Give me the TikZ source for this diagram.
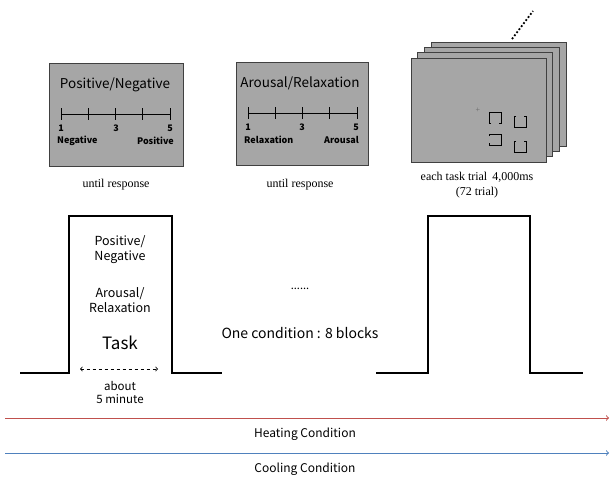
\documentclass[tikz,border=0pt]{standalone}
\usepackage{fontspec}
\setmainfont{Liberation Serif}
\setsansfont{Noto Sans CJK KR}
\usetikzlibrary{arrows}
\usetikzlibrary{backgrounds,positioning,calc}
\usepackage{xcolor}
\definecolor{scrgray}{RGB}{166,166,166}
\definecolor{heatred}{RGB}{192,80,77}
\definecolor{coolblue}{RGB}{79,129,189}

\begin{document}
\begin{tikzpicture}[x=1pt,y=-1pt]
      \tikzstyle{every node}=[inner sep=0pt, font=\sffamily]
      \tikzstyle{scrbox}=[draw=black!75, fill=scrgray, line width=0.8pt]
      \tikzstyle{scalelbl}=[font=\sffamily\bfseries\fontsize{9}{10}\selectfont]
      \tikzstyle{serifnote}=[font=\rmfamily\fontsize{12}{13}\selectfont]
      \tikzstyle{pulse}=[line width=1.2pt]
      \useasboundingbox (0,0) rectangle (611,479);

      % rating screens
      \node[scrbox, minimum width=134, minimum height=103] (s1) at (116,114.5) {};
      \node[scrbox, minimum width=132, minimum height=103] (s2) at (302,113.5) {};
      \node[font=\sffamily\fontsize{13.5}{15}\selectfont] (t1) at (115,85) {Positive/Negative};
      \node[font=\sffamily\fontsize{13.5}{15}\selectfont] (t2) at (300,83) {Arousal/Relaxation};

      \coordinate (a1) at (61,114);  \coordinate (b1) at (170,114);
      \coordinate (a2) at (248,113); \coordinate (b2) at (357,113);
      \draw[line width=0.9pt] (a1) -- (b1);
      \draw[line width=0.9pt] (a2) -- (b2);
      \foreach \k in {0,...,4} {
        \draw[line width=0.9pt] ($(a1)+(27.25*\k,-6)$) -- ($(a1)+(27.25*\k,6)$);
        \draw[line width=0.9pt] ($(a2)+(27.25*\k,-6)$) -- ($(a2)+(27.25*\k,6)$);
      }
      \node[scalelbl] (p1) at (61,128)  {1};
      \node[scalelbl] (p3) at (116,128) {3};
      \node[scalelbl] (p5) at (170,128) {5};
      \node[scalelbl, anchor=west] (neg) at (57,141) {Negative};
      \node[scalelbl, anchor=east] (pos) at (174,141) {Positive};
      \node[scalelbl] (q1) at (248,127) {1};
      \node[scalelbl] (q3) at (302,127) {3};
      \node[scalelbl] (q5) at (356,127) {5};
      \node[scalelbl, anchor=west] (rel) at (244,140) {Relaxation};
      \node[scalelbl, anchor=east] (aro) at (359,140) {Arousal};

      \node[serifnote] (u1) at (116,185) {until response};
      \node[serifnote] (u2) at (300,185) {until response};

      % stacked task screens
      \foreach \i in {3,2,1,0}
        \node[scrbox, minimum width=135, minimum height=104] (f\i) at (478.5+6.7*\i,110-5.3*\i) {};
      \draw[line width=1.8pt, dotted] (512,39) -- (533,11);
      \node[text=black!60, font=\fontsize{8}{8}\selectfont] (fix) at (478,110) {+};
      \draw[line width=0.9pt] (491,123) -- (489,123) -- (489,112) -- (501,112) -- (501,123) -- (499,123);
      \draw[line width=0.9pt] (516,116) -- (514,116) -- (514,127) -- (526,127) -- (526,116) -- (524,116);
      \draw[line width=0.9pt] (489,136) -- (489,134) -- (501,134) -- (501,145) -- (489,145) -- (489,143);
      \draw[line width=0.9pt] (516,141) -- (514,141) -- (514,152) -- (526,152) -- (526,141) -- (524,141);
      \node[serifnote] (e1) at (477,177) {each task trial\, 4,000ms};
      \node[serifnote] (e2) at (477,193) {(72 trial)};

      % block pulses
      \draw[pulse] (20,373) -- (69,373) -- (69,216) -- (172,216) -- (172,373) -- (222,373);
      \draw[pulse] (376,373) -- (428,373) -- (428,216) -- (530,216) -- (530,373) -- (583,373);

      \node[font=\sffamily\fontsize{12.5}{14}\selectfont, align=center] (pn) at (120,250) {Positive/\\[1pt]Negative};
      \node[font=\sffamily\fontsize{12.5}{14}\selectfont, align=center] (ar) at (120,300) {Arousal/\\[1pt]Relaxation};
      \node[font=\sffamily\fontsize{17}{18}\selectfont] (task) at (120,343) {Task};
      \coordinate (d1) at (80,369);
      \coordinate (d2) at (158,369);
      \draw[<->, dashed, line width=0.8pt] (d1) -- (d2);
      \node[font=\sffamily\fontsize{11.5}{13}\selectfont, align=center] (dur) at (120,392) {about\\[0pt]5 minute};

      \node[font=\sffamily\fontsize{11}{12}\selectfont] (dots) at (300,289) {......};
      \node[font=\sffamily\fontsize{14}{15}\selectfont] (cond) at (300,333) {One condition : 8 blocks};

      % condition timelines
      \coordinate (h1) at (5,418);   \coordinate (h2) at (609,418);
      \coordinate (c1) at (5,453);   \coordinate (c2) at (609,453);
      \draw[->, heatred, line width=1pt] (h1) -- (h2);
      \draw[->, coolblue, line width=1pt] (c1) -- (c2);
      \node[font=\sffamily\fontsize{12}{13}\selectfont] (heat) at (305,434) {Heating Condition};
      \node[font=\sffamily\fontsize{12}{13}\selectfont] (cool) at (305,469) {Cooling Condition};
\end{tikzpicture}
\end{document}
